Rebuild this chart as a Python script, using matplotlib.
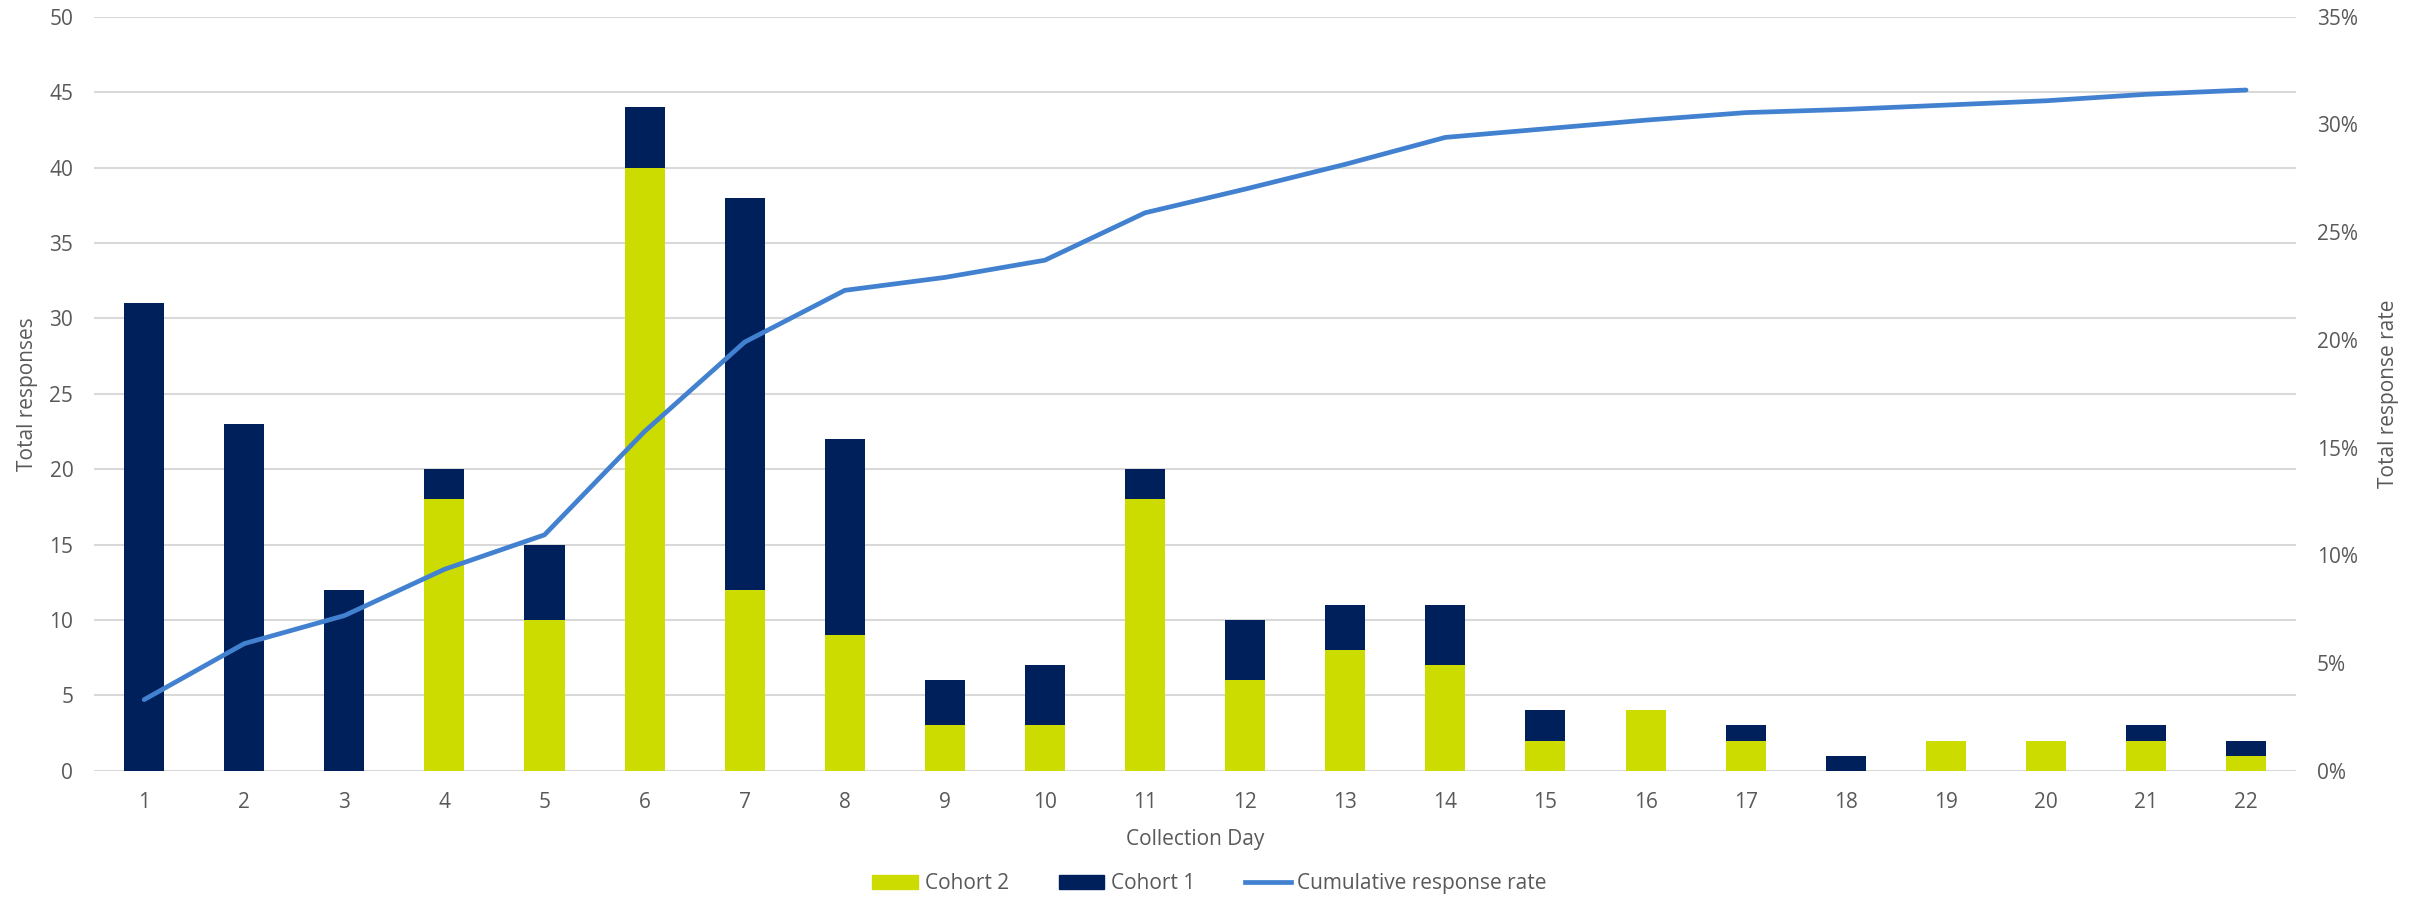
import matplotlib
matplotlib.use("Agg")
import matplotlib.pyplot as plt
from matplotlib.patches import Patch
from matplotlib.lines import Line2D
from matplotlib.ticker import FuncFormatter

days = list(range(1, 23))
cohort2 = [0, 0, 0, 18, 10, 40, 12, 9, 3, 3, 18, 6, 8, 7, 2, 4, 2, 0, 2, 2, 2, 1]
cohort1 = [31, 23, 12, 2, 5, 4, 26, 13, 3, 4, 2, 4, 3, 4, 2, 0, 1, 1, 0, 0, 1, 1]
cum_rate = [3.3, 5.9, 7.2, 9.35, 10.95, 15.75, 19.9, 22.3, 22.9, 23.7, 25.9, 27.0,
            28.15, 29.4, 29.8, 30.2, 30.55, 30.7, 30.9, 31.1, 31.4, 31.6]

C2 = "#CDDC00"
C1 = "#00205B"
LINE = "#4281D0"
TXT = "#595959"
GRID = "#D9D9D9"
FS = 15

plt.rcParams["font.family"] = ["Open Sans", "DejaVu Sans"]

fig = plt.figure(figsize=(24.19, 9.06), dpi=100)
ax = fig.add_axes([0.0389, 0.1493, 0.9103, 0.8322])

ax.bar(days, cohort2, width=0.4, color=C2, zorder=2)
ax.bar(days, cohort1, width=0.4, bottom=cohort2, color=C1, zorder=2)

ax.set_xlim(0.5, 22.5)
ax.set_ylim(0, 50)
ax.set_yticks(range(0, 51, 5))
ax.set_xticks(days)
ax.yaxis.grid(True, color=GRID, linewidth=1.5, zorder=0)
ax.set_axisbelow(True)
for s in ax.spines.values():
    s.set_visible(False)
ax.tick_params(length=0, labelsize=FS, labelcolor=TXT)
ax.tick_params(axis="x", pad=15)
ax.tick_params(axis="y", pad=15)
ax.set_xlabel("Collection Day", fontsize=FS, color=TXT, labelpad=12)
ax.set_ylabel("Total responses", fontsize=FS, color=TXT, labelpad=8)

ax2 = ax.twinx()
ax2.plot(days, cum_rate, color=LINE, linewidth=3.4, zorder=3, solid_capstyle="round")
ax2.set_ylim(0, 35)
ax2.set_yticks(range(0, 36, 5))
ax2.yaxis.set_major_formatter(FuncFormatter(lambda v, p: f"{int(v)}%"))
for s in ax2.spines.values():
    s.set_visible(False)
ax2.tick_params(length=0, labelsize=FS, labelcolor=TXT, pad=15)
ax2.set_ylabel("Total response rate", fontsize=FS, color=TXT, labelpad=14)

handles = [Patch(color=C2, label="Cohort 2"),
           Patch(color=C1, label="Cohort 1"),
           Line2D([0], [0], color=LINE, linewidth=3.4, label="Cumulative response rate")]
leg = fig.legend(handles=handles, loc="lower center", bbox_to_anchor=(0.5, -0.008), ncol=3,
                 frameon=False, fontsize=FS, handlelength=2.2, columnspacing=2.4,
                 handletextpad=0.3)
for t in leg.get_texts():
    t.set_color(TXT)

fig.savefig("out.png", dpi=100)
